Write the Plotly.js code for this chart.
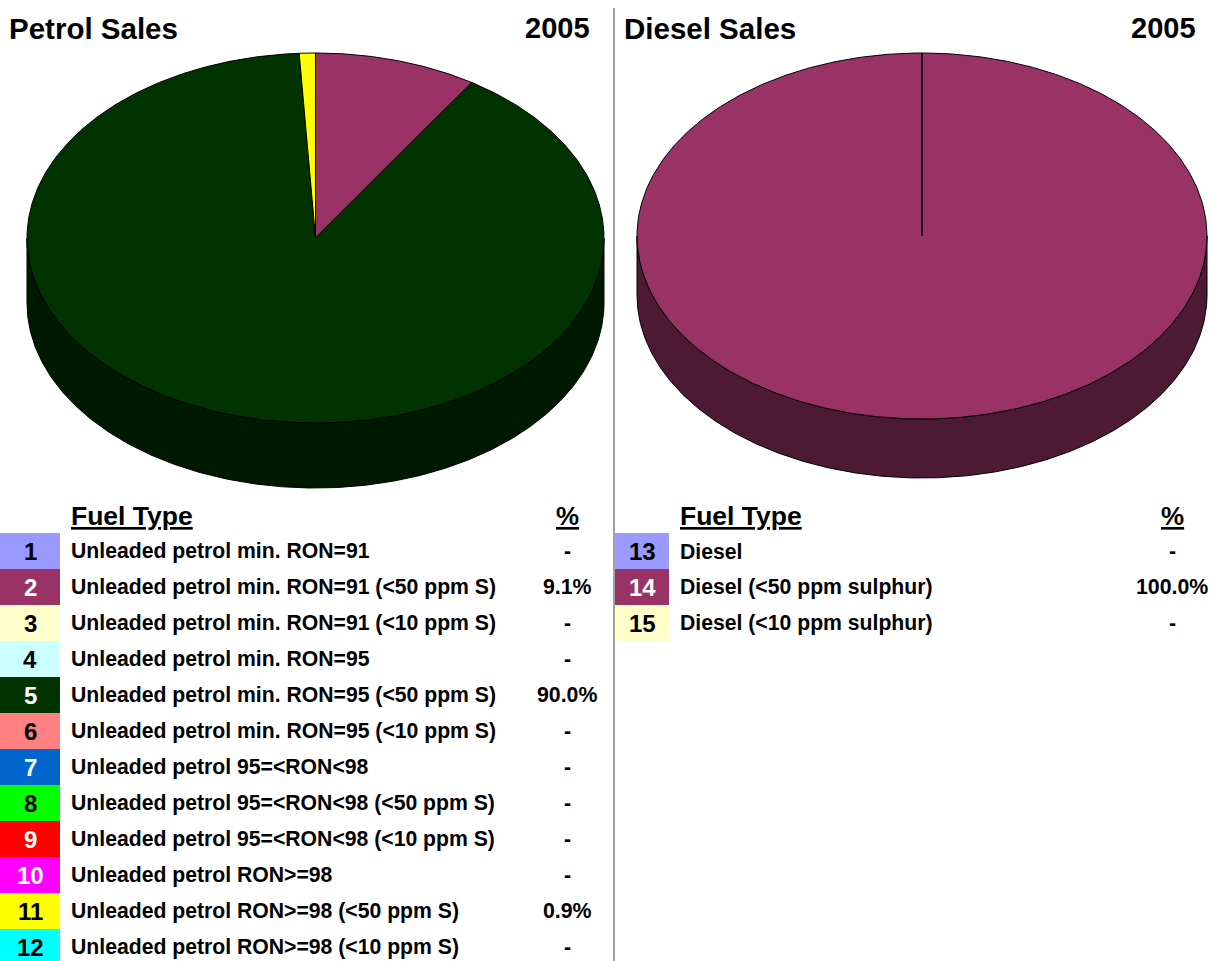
<!DOCTYPE html>
<html>
<head>
<meta charset="utf-8">
<script src="https://cdn.plot.ly/plotly-3.0.1.min.js"></script>
<style>html,body{margin:0;padding:0;background:#fff;}#chart{width:1211px;height:961px;}</style>
</head>
<body>
<div id="chart"></div>
<script>
// ---------- DATA ----------
const year = '2005';
const petrolTitle = 'Petrol Sales';
const dieselTitle = 'Diesel Sales';
const headerType = 'Fuel Type';
const headerPct = '%';

const petrolCodes = ['1','2','3','4','5','6','7','8','9','10','11','12'];
const petrolLabels = [
  'Unleaded petrol min. RON=91',
  'Unleaded petrol min. RON=91 (<50 ppm S)',
  'Unleaded petrol min. RON=91 (<10 ppm S)',
  'Unleaded petrol min. RON=95',
  'Unleaded petrol min. RON=95 (<50 ppm S)',
  'Unleaded petrol min. RON=95 (<10 ppm S)',
  'Unleaded petrol 95=<RON<98',
  'Unleaded petrol 95=<RON<98 (<50 ppm S)',
  'Unleaded petrol 95=<RON<98 (<10 ppm S)',
  'Unleaded petrol RON>=98',
  'Unleaded petrol RON>=98 (<50 ppm S)',
  'Unleaded petrol RON>=98 (<10 ppm S)'
];
const petrolValues = [0, 9.1, 0, 0, 90.0, 0, 0, 0, 0, 0, 0.9, 0];
const petrolColors = ['#9999FF','#993366','#FFFFCC','#CCFFFF','#003300','#FF8080',
                      '#0066CC','#00FF00','#FF0000','#FF00FF','#FFFF00','#00FFFF'];

const dieselCodes = ['13','14','15'];
const dieselLabels = ['Diesel','Diesel (<50 ppm sulphur)','Diesel (<10 ppm sulphur)'];
const dieselValues = [0, 100.0, 0];
const dieselColors = ['#9999FF','#993366','#FFFFCC'];

// ---------- LAYOUT GEOMETRY ----------
const W = 1211, H = 961;
const FONT = 'Liberation Sans, Arial, Helvetica, sans-serif';
const petrolPie = {cx: 315.5, cy: 238, rx: 288.5, ry: 185, depth: 65};
const dieselPie = {cx: 922, cy: 236, rx: 285, ry: 183, depth: 59};
const rowStart = 551, rowH = 36;
const petrolTable = {boxX0: 0, boxX1: 60, labelX: 70, pctX: 567, title: 8, yearRight: 591};
const dieselTable = {boxX0: 615, boxX1: 669, labelX: 679, pctX: 1172, title: 623, yearRight: 1197};

function darken(hex, f) {
  const n = parseInt(hex.slice(1), 16);
  const r = Math.round(((n >> 16) & 255) * f), g = Math.round(((n >> 8) & 255) * f), b = Math.round((n & 255) * f);
  return 'rgb(' + r + ',' + g + ',' + b + ')';
}
function isDark(hex) {
  const n = parseInt(hex.slice(1), 16);
  const r = (n >> 16) & 255, g = (n >> 8) & 255, b = n & 255;
  return (0.299 * r + 0.587 * g + 0.114 * b) < 128;
}

function pieTraces(values, colors, geo) {
  const total = values.reduce((a, b) => a + b, 0);
  const sides = [], tops = [];
  let a = 0;
  const pt = (t, dz) => [geo.cx + geo.rx * Math.sin(t), geo.cy - geo.ry * Math.cos(t) + dz];
  values.forEach((v, i) => {
    if (v <= 0) return;
    const a0 = a, a1 = a + v / total * 2 * Math.PI;
    a = a1;
    // top face
    const tx = [geo.cx], ty = [geo.cy];
    const n = Math.max(2, Math.ceil((a1 - a0) / (Math.PI / 360)));
    for (let k = 0; k <= n; k++) {
      const p = pt(a0 + (a1 - a0) * k / n, 0);
      tx.push(p[0]); ty.push(p[1]);
    }
    tx.push(geo.cx); ty.push(geo.cy);
    tops.push({type: 'scatter', mode: 'lines', x: tx, y: ty, fill: 'toself',
      fillcolor: colors[i], line: {color: '#000', width: 1}, hoverinfo: 'skip', showlegend: false});
    // visible side wall (front half)
    const s = Math.max(a0, Math.PI / 2), e = Math.min(a1, 3 * Math.PI / 2);
    if (e > s) {
      const sx = [], sy = [];
      const m = Math.max(2, Math.ceil((e - s) / (Math.PI / 360)));
      for (let k = 0; k <= m; k++) { const p = pt(s + (e - s) * k / m, 0); sx.push(p[0]); sy.push(p[1]); }
      for (let k = m; k >= 0; k--) { const p = pt(s + (e - s) * k / m, geo.depth); sx.push(p[0]); sy.push(p[1]); }
      sx.push(sx[0]); sy.push(sy[0]);
      sides.push({type: 'scatter', mode: 'lines', x: sx, y: sy, fill: 'toself',
        fillcolor: darken(colors[i], 0.5), line: {color: '#000', width: 1}, hoverinfo: 'skip', showlegend: false});
    }
  });
  return sides.concat(tops);
}

const traces = pieTraces(petrolValues, petrolColors, petrolPie)
  .concat(pieTraces(dieselValues, dieselColors, dieselPie));

const shapes = [{type: 'line', xref: 'x', yref: 'y', x0: 614, x1: 614, y0: 8, y1: H,
  line: {color: '#A0A0A0', width: 2}}];
const annotations = [];
function ann(text, x, y, xanchor, size, color) {
  annotations.push({text: text, x: x, y: y, xref: 'x', yref: 'y', xanchor: xanchor, yanchor: 'middle',
    showarrow: false, borderpad: 0,
    font: {family: FONT, size: size, color: color || '#000', weight: 'bold'}});
}

function table(codes, labels, values, colors, t, title) {
  ann(title, t.title, 28, 'left', 29.5);
  ann(year, t.yearRight, 28, 'right', 29);
  ann('<u>' + headerType + '</u>', t.labelX, 516, 'left', 26.5);
  ann('<u>' + headerPct + '</u>', t.pctX, 516, 'center', 26);
  codes.forEach((c, i) => {
    const yc = rowStart + i * rowH;
    shapes.push({type: 'rect', xref: 'x', yref: 'y', x0: t.boxX0, x1: t.boxX1,
      y0: yc - rowH / 2, y1: yc + rowH / 2, fillcolor: colors[i], line: {width: 0}, layer: 'below'});
    ann(c, (t.boxX0 + t.boxX1) / 2, yc, 'center', 24, isDark(colors[i]) ? '#fff' : '#000');
    ann(labels[i], t.labelX, yc, 'left', 21.2);
    ann(values[i] > 0 ? values[i].toFixed(1) + '%' : '-', t.pctX, yc, 'center', 21.3);
  });
}
table(petrolCodes, petrolLabels, petrolValues, petrolColors, petrolTable, petrolTitle);
table(dieselCodes, dieselLabels, dieselValues, dieselColors, dieselTable, dieselTitle);

const layout = {
  width: W, height: H,
  margin: {l: 0, r: 0, t: 0, b: 0},
  paper_bgcolor: '#fff', plot_bgcolor: '#fff',
  xaxis: {range: [0, W], visible: false, fixedrange: true},
  yaxis: {range: [H, 0], visible: false, fixedrange: true},
  shapes: shapes, annotations: annotations, showlegend: false
};
Plotly.newPlot('chart', traces, layout, {staticPlot: true});
</script>
</body>
</html>
